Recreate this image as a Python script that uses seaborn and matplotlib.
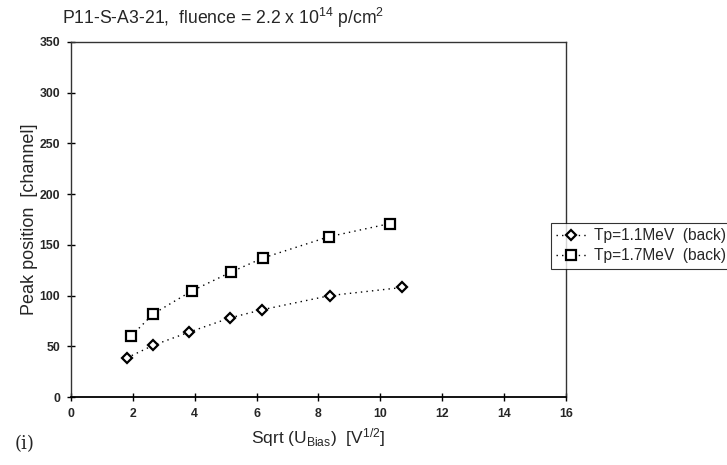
import matplotlib
matplotlib.use("Agg")
import matplotlib.pyplot as plt
import seaborn as sns
import pandas as pd
from matplotlib.lines import Line2D

# Peak position vs sqrt of bias voltage for two proton energies
sqrt_u_11 = [1.80, 2.66, 3.82, 5.14, 6.17, 8.37, 10.71]
peak_11 = [38.5, 51, 64, 78, 86, 100, 108]
sqrt_u_17 = [1.94, 2.66, 3.90, 5.16, 6.20, 8.33, 10.31]
peak_17 = [60, 82, 104.5, 123, 137, 158, 171]

label_11 = "Tp=1.1MeV  (back)"
label_17 = "Tp=1.7MeV  (back)"
x_ticks = [0, 2, 4, 6, 8, 10, 12, 14, 16]
y_ticks = [0, 50, 100, 150, 200, 250, 300, 350]

sns.set_theme(style="white")
plt.rcParams["font.family"] = ["Liberation Sans", "DejaVu Sans"]
plt.rcParams["mathtext.fontset"] = "custom"
plt.rcParams["mathtext.rm"] = "Liberation Sans"
plt.rcParams["mathtext.it"] = "Liberation Sans"

fig = plt.figure(figsize=(7.27, 4.65), dpi=100)
ax = fig.add_axes([0.0977, 0.1462, 0.6808, 0.7635])

df11 = pd.DataFrame({"x": sqrt_u_11, "y": peak_11})
df17 = pd.DataFrame({"x": sqrt_u_17, "y": peak_17})

dots = (0, (1, 3))
sns.lineplot(data=df11, x="x", y="y", ax=ax, color="black", linestyle=dots,
             linewidth=1.0, marker="D", markersize=5.5, markerfacecolor="white",
             markeredgecolor="black", markeredgewidth=1.6, sort=False)
sns.lineplot(data=df17, x="x", y="y", ax=ax, color="black", linestyle=dots,
             linewidth=1.0, marker="s", markersize=7, markerfacecolor="white",
             markeredgecolor="black", markeredgewidth=1.6, sort=False)

ax.set_xlim(0, 16)
ax.set_ylim(0, 350)
ax.set_xticks(x_ticks)
ax.set_yticks(y_ticks)
ax.set_xticklabels([str(t) for t in x_ticks], fontsize=8.8, fontweight="bold")
ax.set_yticklabels([str(t) for t in y_ticks], fontsize=8.8, fontweight="bold")
ax.tick_params(axis="both", direction="inout", length=6, width=1, color="black",
               bottom=True, left=True, pad=5)

for side, sp in ax.spines.items():
    sp.set_visible(True)
    sp.set_color("#333333")
    sp.set_linewidth(1.0)
ax.spines["bottom"].set_color("black")
ax.spines["bottom"].set_linewidth(1.3)

ax.set_xlabel(r"Sqrt (U$_{\mathrm{Bias}}$)  [V$^{1/2}$]", fontsize=12.5, labelpad=4)
ax.set_ylabel("Peak position  [channel]", fontsize=13, labelpad=1)

fig.text(0.085, 0.962, r"P11-S-A3-21,  fluence = 2.2 x 10$^{14}$ p/cm$^{2}$",
         fontsize=12.7, ha="left", va="center")
fig.text(0.02, 0.045, "(i)", fontsize=13, family="DejaVu Serif", ha="left", va="center")

handles = [
    Line2D([], [], color="black", linestyle=dots, linewidth=1.0, marker="D",
           markersize=5.5, markerfacecolor="white", markeredgecolor="black",
           markeredgewidth=1.6),
    Line2D([], [], color="black", linestyle=dots, linewidth=1.0, marker="s",
           markersize=6.5, markerfacecolor="white", markeredgecolor="black",
           markeredgewidth=1.6),
]
leg = fig.legend(handles, [label_11, label_17], loc="upper left",
                 bbox_to_anchor=(551 / 727, 1 - 223 / 465), fontsize=11.2,
                 frameon=True, fancybox=False, borderpad=0.35, handlelength=1.9,
                 handletextpad=0.5, labelspacing=0.3, borderaxespad=0)
leg.get_frame().set_edgecolor("black")
leg.get_frame().set_linewidth(0.8)

fig.savefig("out.png", dpi=100)
